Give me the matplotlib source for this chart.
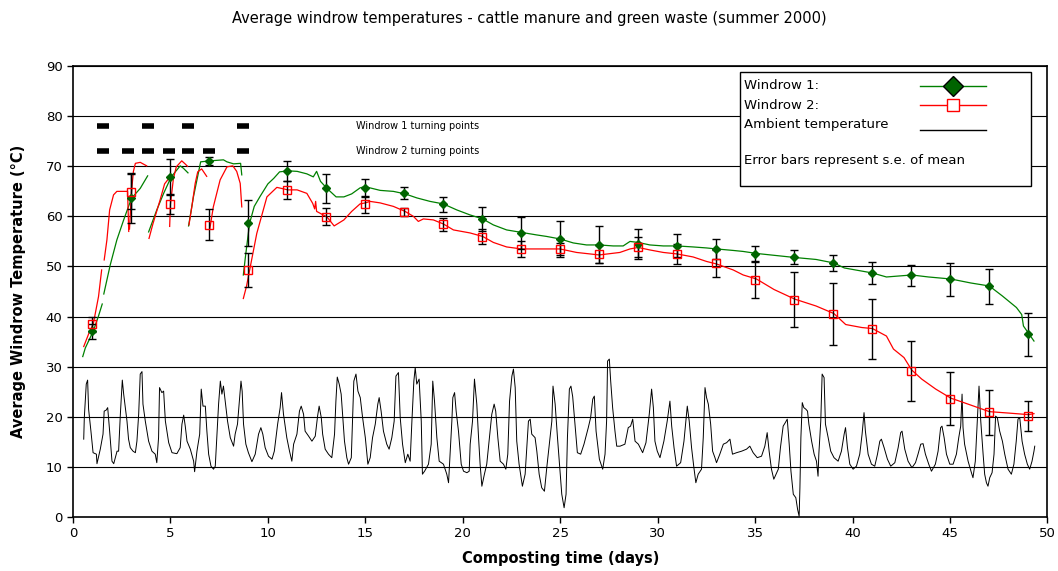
import numpy as np
import matplotlib
matplotlib.use("Agg")
import matplotlib.pyplot as plt
from matplotlib.lines import Line2D
from matplotlib.patches import Rectangle

# Windrow 1 (green) - NaN separates the segments between turning events
w1_day = [0.5, 0.63, 1.04, 1.3, 1.5, np.nan,
          1.58, 1.91, 2.25, 2.6, 3.0, 3.45, 3.83, np.nan,
          3.88, 4.3, 4.65, 5.04, 5.5, 5.67, 5.9, np.nan,
          5.93, 6.18, 6.36, 6.55, 7.04, 7.72, 7.9, 8.24, 8.6, 8.66, np.nan,
          8.74, 8.85, 9.06, 9.3, 9.6, 10.0, 10.3, 10.6, 11.03, 11.5, 12.0, 12.33, 12.5, 12.7,
          13.03, 13.5, 13.9, 14.3, 14.73, 14.99, 15.24, 15.76, 16.44, 17.04, 17.64, 18.32,
          19.0, 19.69, 20.37, 21.02, 21.57, 22.25, 23.02, 23.79, 24.3, 24.99, 25.67, 26.35,
          27.0, 27.72, 28.23, 28.58, 29.0, 29.6, 30.29, 31.0, 31.82, 32.51, 33.02, 33.88,
          34.39, 35.07, 37.02, 38.13, 39.04, 39.58, 41.02, 41.74, 43.04, 43.9, 45.04, 46.07,
          47.02, 47.69, 48.41, 48.68, 48.77, 49.04, 49.31]
w1_temp = [32.0, 33.7, 37.1, 40.0, 42.5, np.nan,
           44.5, 50.3, 55.3, 59.3, 63.6, 65.6, 68.1, np.nan,
           56.9, 61.3, 64.6, 67.9, 70.1, 69.6, 68.7, np.nan,
           58.1, 63.9, 67.3, 70.9, 71.1, 71.3, 70.9, 70.5, 70.6, 68.3, np.nan,
           48.3, 52.0, 58.6, 62.0, 64.0, 66.5, 67.6, 68.9, 69.1, 69.0, 68.5, 67.9, 69.0, 67.0,
           65.6, 63.9, 63.9, 64.5, 65.7, 66.0, 65.7, 65.2, 65.0, 64.5, 63.7, 63.0,
           62.5, 61.3, 60.3, 59.5, 58.3, 57.3, 56.8, 56.3, 56.0, 55.5, 54.7, 54.3,
           54.3, 54.1, 54.1, 55.0, 54.8, 54.3, 54.1, 54.1, 53.9, 53.7, 53.5, 53.2,
           53.0, 52.6, 51.8, 51.4, 50.7, 49.7, 48.7, 47.9, 48.3, 47.9, 47.5, 46.7,
           46.1, 44.1, 41.8, 40.4, 38.1, 36.6, 35.1]

# Windrow 2 (red)
w2_day = [0.55, 0.8, 1.04, 1.31, 1.47, np.nan,
          1.6, 1.74, 1.88, 2.08, 2.25, 2.8, 2.86, np.nan,
          2.9, 3.0, 3.1, 3.2, 3.45, 3.78, np.nan,
          3.9, 4.1, 4.47, 4.7, 4.9, np.nan,
          4.96, 5.0, 5.15, 5.3, 5.58, 5.75, 5.88, np.nan,
          5.95, 6.1, 6.27, 6.4, 6.6, 6.86, np.nan,
          7.02, 7.2, 7.55, 7.9, 8.2, 8.4, 8.58, 8.66, np.nan,
          8.74, 8.9, 9.06, 9.43, 9.95, 10.46, 11.03, 11.5, 12.0, 12.3, 12.4, 12.45, 12.5,
          13.03, 13.4, 13.9, 14.3, 14.73, 15.0, 15.24, 15.76, 16.44, 17.04, 17.47, 17.72,
          17.98, 18.49, 19.0, 19.52, 20.37, 21.02, 21.57, 22.25, 23.02, 23.79, 24.99, 25.84,
          27.0, 28.06, 28.58, 29.0, 29.6, 30.29, 31.0, 31.82, 32.51, 33.02, 33.88, 34.39,
          35.07, 35.97, 37.02, 38.13, 39.04, 39.65, 40.48, 41.02, 41.74, 42.1, 42.64, 43.04,
          43.55, 44.27, 45.04, 45.71, 47.02, 48.05, 49.04, 49.31]
w2_temp = [34.0, 36.5, 38.5, 44.0, 49.3, np.nan,
           51.3, 55.3, 61.3, 64.3, 65.0, 65.0, 57.0, np.nan,
           57.5, 64.9, 69.0, 70.6, 70.8, 70.1, np.nan,
           55.6, 58.5, 63.3, 66.5, 67.5, np.nan,
           58.0, 62.4, 67.5, 69.9, 71.1, 70.5, 70.0, np.nan,
           58.3, 62.0, 66.6, 68.9, 69.5, 68.0, np.nan,
           57.5, 61.9, 67.3, 69.9, 70.1, 69.0, 66.6, 61.9, np.nan,
           43.6, 46.0, 49.2, 56.6, 63.9, 65.8, 65.3, 65.3, 64.6, 62.6, 61.5, 63.0, 61.0,
           59.9, 58.1, 59.3, 61.0, 62.5, 62.7, 63.0, 62.7, 62.0, 61.0, 60.0, 59.0,
           59.5, 59.3, 58.5, 57.3, 56.7, 56.0, 54.8, 53.9, 53.5, 53.5, 53.5, 52.8,
           52.3, 52.8, 53.5, 53.8, 53.3, 52.8, 52.5, 51.9, 51.0, 50.5, 49.3, 48.3,
           47.5, 45.4, 43.5, 42.1, 40.6, 38.4, 37.8, 37.6, 36.1, 33.5, 31.8, 29.3,
           27.5, 25.5, 23.7, 22.8, 21.0, 20.7, 20.4, 20.6]

# Sampling days (means with standard error)
mean_day = [1, 3, 5, 7, 9, 11, 13, 15, 17, 19, 21, 23, 25, 27, 29, 31, 33, 35, 37, 39, 41, 43, 45, 47, 49]
w1_mean = [37.1, 63.6, 67.9, 71.1, 58.6, 69.1, 65.6, 65.7, 64.6, 62.4, 59.4, 56.7, 55.5,
           54.3, 54.4, 54.1, 53.5, 52.5, 51.8, 50.6, 48.6, 48.2, 47.4, 46.0, 36.5]
w1_se = [1.5, 5.0, 3.6, 0.8, 4.6, 2.0, 2.9, 1.8, 1.2, 1.5, 2.4, 3.2, 3.6,
         3.7, 3.0, 2.3, 2.0, 1.5, 1.4, 1.6, 2.2, 2.1, 3.3, 3.5, 4.3]
w2_mean = [38.5, 64.9, 62.4, 58.3, 49.2, 65.3, 59.9, 62.4, 60.9, 58.4, 55.9, 53.5, 53.5,
           52.4, 53.9, 52.4, 50.6, 47.3, 43.4, 40.5, 37.5, 29.2, 23.6, 20.9, 20.2]
w2_se = [1.5, 3.5, 2.0, 3.1, 3.4, 1.8, 1.7, 1.7, 0.8, 1.3, 1.5, 1.6, 1.2,
         1.8, 2.0, 2.0, 2.7, 3.5, 5.4, 6.2, 6.0, 6.0, 5.3, 4.5, 3.0]

# Turning points
turn1_day = [1.56, 3.87, 5.92, 8.72]
turn2_day = [1.56, 2.84, 3.87, 4.95, 5.92, 6.99, 8.72]
turn1_level = 78
turn2_level = 73

# Ambient temperature
amb_day = [0.55, 0.58, 0.68, 0.75, 0.8, 0.92, 1.03, 1.2, 1.23, 1.4, 1.54, 1.6, 1.7, 1.78, 1.88,
           2.0, 2.09, 2.26, 2.34, 2.43, 2.53, 2.6, 2.77, 2.85, 2.94, 3.08, 3.2, 3.28, 3.37, 3.45,
           3.54, 3.59, 3.71, 3.88, 4.05, 4.22, 4.3, 4.39, 4.44, 4.56, 4.65, 4.74, 4.91, 5.08,
           5.33, 5.5, 5.59, 5.68, 5.76, 5.85, 6.02, 6.19, 6.24, 6.36, 6.5, 6.58, 6.67, 6.79,
           6.87, 6.96, 7.08, 7.21, 7.3, 7.38, 7.47, 7.56, 7.64, 7.72, 7.81, 7.93, 8.07, 8.24,
           8.32, 8.44, 8.55, 8.62, 8.68, 8.75, 8.87, 9.0, 9.18, 9.35, 9.52, 9.64, 9.74, 9.86,
           10.03, 10.21, 10.33, 10.5, 10.63, 10.7, 10.8, 10.97, 11.11, 11.23, 11.32, 11.49,
           11.62, 11.71, 11.83, 11.91, 12.09, 12.26, 12.43, 12.55, 12.63, 12.74, 12.81, 12.94,
           13.11, 13.28, 13.42, 13.49, 13.56, 13.66, 13.76, 13.83, 13.93, 14.05, 14.14, 14.28,
           14.34, 14.41, 14.52, 14.62, 14.74, 14.86, 15.0, 15.13, 15.25, 15.37, 15.51, 15.64,
           15.71, 15.81, 15.93, 16.1, 16.22, 16.36, 16.48, 16.57, 16.7, 16.79, 16.91, 17.05,
           17.18, 17.3, 17.39, 17.49, 17.56, 17.64, 17.76, 17.87, 17.93, 18.04, 18.24, 18.38,
           18.46, 18.55, 18.67, 18.79, 19.01, 19.18, 19.27, 19.35, 19.44, 19.49, 19.58, 19.66,
           19.78, 19.92, 20.04, 20.21, 20.33, 20.38, 20.5, 20.6, 20.72, 20.81, 20.89, 20.98,
           21.11, 21.23, 21.35, 21.49, 21.61, 21.69, 21.8, 21.92, 22.09, 22.21, 22.31, 22.4,
           22.52, 22.6, 22.69, 22.77, 22.89, 23.06, 23.2, 23.37, 23.46, 23.54, 23.71, 23.8,
           23.92, 24.05, 24.19, 24.31, 24.48, 24.57, 24.63, 24.74, 24.86, 25.0, 25.08, 25.2,
           25.3, 25.37, 25.47, 25.55, 25.64, 25.76, 25.88, 26.05, 26.22, 26.44, 26.56, 26.67,
           26.75, 26.84, 27.01, 27.18, 27.3, 27.38, 27.43, 27.52, 27.59, 27.69, 27.81, 27.9,
           28.07, 28.32, 28.49, 28.61, 28.72, 28.84, 29.01, 29.23, 29.4, 29.57, 29.69, 29.78,
           29.86, 29.98, 30.12, 30.32, 30.49, 30.63, 30.72, 30.84, 30.97, 31.18, 31.35, 31.45,
           31.52, 31.62, 31.74, 31.86, 31.96, 32.08, 32.25, 32.34, 32.43, 32.51, 32.6, 32.72,
           32.82, 32.94, 33.02, 33.19, 33.37, 33.54, 33.71, 33.84, 34.05, 34.31, 34.56, 34.73,
           34.9, 35.11, 35.33, 35.5, 35.62, 35.72, 35.84, 35.96, 36.19, 36.3, 36.44, 36.55,
           36.65, 36.75, 36.84, 36.96, 37.09, 37.18, 37.26, 37.3, 37.35, 37.42, 37.5, 37.6,
           37.69, 37.76, 37.9, 38.03, 38.15, 38.23, 38.27, 38.37, 38.44, 38.54, 38.61, 38.75,
           38.88, 39.05, 39.26, 39.43, 39.57, 39.64, 39.74, 39.86, 40.03, 40.2, 40.37, 40.49,
           40.59, 40.66, 40.8, 40.97, 41.14, 41.28, 41.4, 41.48, 41.62, 41.79, 41.96, 42.17,
           42.34, 42.47, 42.54, 42.68, 42.85, 43.05, 43.23, 43.36, 43.5, 43.62, 43.74, 43.91,
           44.05, 44.25, 44.39, 44.52, 44.59, 44.7, 44.82, 44.99, 45.16, 45.33, 45.45, 45.55,
           45.62, 45.67, 45.75, 45.93, 46.1, 46.18, 46.3, 46.4, 46.49, 46.58, 46.7, 46.78,
           46.87, 46.95, 47.04, 47.16, 47.26, 47.34, 47.43, 47.55, 47.69, 47.81, 47.98, 48.15,
           48.28, 48.4, 48.49, 48.58, 48.7, 48.83, 48.97, 49.09, 49.21, 49.31, 49.35]
amb_temp = [15.5, 19.8, 26.5, 27.3, 21.5, 17.1, 12.8, 12.5, 10.6, 13.5, 16.5, 21.1, 21.3, 21.8, 17.1,
            11.1, 10.6, 13.1, 13.1, 20.5, 27.3, 24.5, 19.1, 15.5, 13.8, 13.1, 12.8, 15.1, 20.5, 28.5,
            29.0, 22.5, 19.1, 15.1, 13.1, 12.5, 10.8, 15.8, 25.8, 24.8, 25.1, 19.1, 14.8, 12.8,
            12.6, 13.8, 18.5, 20.3, 18.1, 15.1, 13.5, 11.1, 9.0, 13.1, 16.5, 25.5, 22.1, 22.1,
            17.1, 12.5, 10.1, 9.5, 10.1, 15.8, 22.5, 27.1, 24.5, 26.1, 23.1, 19.1, 15.8, 14.1,
            16.5, 18.5, 23.8, 27.1, 25.1, 18.5, 14.5, 12.8, 11.0, 12.5, 16.5, 17.8, 16.5, 13.8,
            12.1, 11.5, 13.1, 18.5, 21.8, 24.8, 20.5, 15.8, 13.1, 11.1, 14.5, 16.5,
            21.1, 22.1, 20.5, 17.1, 16.1, 15.1, 16.1, 20.1, 22.1, 19.8, 16.5, 13.5,
            12.5, 11.8, 16.5, 23.1, 27.9, 26.5, 24.5, 20.5, 15.1, 11.8, 10.5, 11.8,
            19.1, 27.1, 28.5, 25.1, 23.8, 19.8, 15.8, 10.5, 11.8, 15.8, 18.5, 22.5,
            23.8, 21.1, 17.1, 14.5, 13.5, 15.8, 19.1, 28.1, 28.8, 19.8, 14.5, 10.8,
            12.5, 11.1, 19.1, 27.1, 29.8, 26.5, 27.5, 19.1, 8.5, 9.1, 10.5, 14.5,
            27.1, 23.1, 15.8, 11.1, 10.5, 8.5, 6.8, 12.5, 19.1, 23.8, 24.8, 21.1,
            17.1, 10.5, 9.1, 8.8, 9.1, 14.5, 19.1, 27.5, 22.5, 15.8, 10.5, 6.1,
            8.5, 10.5, 15.1, 20.5, 22.5, 21.1, 15.8, 11.1, 10.5, 9.5, 12.5, 23.1,
            28.1, 29.5, 25.8, 15.1, 10.5, 6.1, 8.5, 19.1, 19.5, 16.5, 15.8, 13.1,
            8.5, 5.8, 5.1, 9.8, 15.8, 19.1, 26.1, 22.5, 15.8, 8.5, 4.5, 1.8,
            4.5, 15.8, 25.5, 26.1, 24.0, 18.5, 12.8, 12.5, 14.5, 17.8, 19.8, 23.5,
            24.1, 17.1, 11.5, 9.5, 12.5, 19.1, 31.1, 31.5, 27.1, 21.8, 17.1, 14.1,
            14.1, 14.5, 17.8, 18.1, 19.5, 15.1, 14.5, 12.8, 14.8, 20.5, 25.5, 21.8,
            15.1, 13.1, 11.8, 15.1, 19.1, 23.1, 18.1, 13.8, 10.1, 10.8, 15.1, 19.1,
            22.1, 19.1, 13.8, 9.8, 6.8, 8.5, 9.5, 15.8, 25.8, 23.8, 22.5, 18.5,
            13.1, 11.8, 10.8, 12.5, 14.5, 14.8, 15.5, 12.5, 12.8, 13.1, 13.5, 14.1,
            12.8, 11.8, 12.1, 14.1, 16.8, 13.1, 9.5, 7.5, 9.5, 13.8, 18.1, 18.8,
            19.5, 14.5, 9.1, 4.5, 3.8, 1.5, 0.1, 5.8, 15.8, 22.8, 21.8, 21.5,
            21.1, 18.5, 15.1, 12.5, 11.1, 8.1, 12.5, 19.1, 28.5, 27.8, 18.5, 15.8,
            13.1, 11.8, 11.1, 13.1, 16.5, 17.8, 13.8, 10.5, 9.5, 10.1, 12.5, 16.5,
            20.8, 17.1, 12.5, 10.5, 10.1, 12.5, 15.1, 15.5, 13.8, 11.5, 10.1, 10.8,
            13.8, 16.8, 17.1, 13.5, 11.1, 9.8, 10.8, 12.5, 14.5, 14.6, 12.5, 10.5,
            9.1, 10.5, 13.1, 17.8, 18.1, 15.8, 12.5, 10.5, 10.5, 12.5, 15.8, 18.1,
            24.5, 17.8, 14.5, 11.1, 8.8, 7.8, 11.1, 19.1, 26.1, 19.1, 12.5, 8.5,
            6.8, 6.1, 7.8, 8.8, 12.5, 20.1, 19.8, 17.1, 15.1, 12.5, 9.5, 8.5,
            10.5, 15.1, 19.5, 19.8, 15.1, 12.5, 10.5, 9.5, 11.1, 13.1, 14.1]

x_ticks = [0, 5, 10, 15, 20, 25, 30, 35, 40, 45, 50]
y_ticks = [0, 10, 20, 30, 40, 50, 60, 70, 80, 90]

GREEN = "#008000"
DARK_GREEN = "#006400"
RED = "#ff0000"

fig = plt.figure(figsize=(10.58, 5.71), dpi=100)
ax = fig.add_axes([0.069, 0.095, 0.921, 0.789])

# horizontal grid
for yv in y_ticks[1:]:
    ax.axhline(yv, color="black", linewidth=0.8, zorder=0)

ax.plot(amb_day, amb_temp, color="black", linewidth=0.7, zorder=2)
ax.plot(w1_day, w1_temp, color=GREEN, linewidth=0.9, zorder=3)
ax.plot(w2_day, w2_temp, color=RED, linewidth=0.9, zorder=3)

ax.errorbar(mean_day, w1_mean, yerr=w1_se, fmt="none", ecolor="black",
            elinewidth=1, capsize=3, capthick=1, zorder=4)
ax.errorbar(mean_day, w2_mean, yerr=w2_se, fmt="none", ecolor="black",
            elinewidth=1, capsize=3, capthick=1, zorder=4)
ax.plot(mean_day, w1_mean, linestyle="none", marker="D", markersize=4,
        color=DARK_GREEN, zorder=5)
ax.plot(mean_day, w2_mean, linestyle="none", marker="s", markersize=6,
        markerfacecolor="none", markeredgecolor=RED, markeredgewidth=1, zorder=5)

# turning points
ax.plot(turn1_day, [turn1_level] * len(turn1_day), linestyle="none", marker="_",
        markersize=9, markeredgewidth=4, color="black")
ax.plot(turn2_day, [turn2_level] * len(turn2_day), linestyle="none", marker="_",
        markersize=9, markeredgewidth=4, color="black")
ax.text(14.5, turn1_level, "Windrow 1 turning points", fontsize=7, va="center", ha="left")
ax.text(14.5, turn2_level, "Windrow 2 turning points", fontsize=7, va="center", ha="left")

ax.set_xlim(0, 50)
ax.set_ylim(0, 90)
ax.set_xticks(x_ticks)
ax.set_yticks(y_ticks)
ax.tick_params(direction="out", length=4, width=1, labelsize=9.5)
for sp in ax.spines.values():
    sp.set_linewidth(1.2)

ax.set_xlabel("Composting time (days)", fontsize=10.5, fontweight="bold", labelpad=8)
ax.set_ylabel("Average Windrow Temperature (°C)", fontsize=10.5, fontweight="bold", labelpad=14)
fig.suptitle("Average windrow temperatures - cattle manure and green waste (summer 2000)",
             fontsize=10.5, y=0.98)

# legend box drawn by hand (labels left, symbols right)
tr = ax.transAxes
ax.add_patch(Rectangle((0.685, 0.735), 0.298, 0.252, transform=tr, facecolor="white",
                       edgecolor="black", linewidth=1, zorder=6))
rows = [0.957, 0.913, 0.871, 0.79]
labels = ["Windrow 1:", "Windrow 2:", "Ambient temperature", "Error bars represent s.e. of mean"]
for yy, lab in zip(rows, labels):
    ax.text(0.689, yy, lab, transform=tr, fontsize=9.5, va="center", ha="left", zorder=7)
hx = [0.869, 0.937]
ax.add_line(Line2D(hx, [rows[0]] * 2, transform=tr, color=GREEN, linewidth=1, zorder=7))
ax.add_line(Line2D([0.9035], [rows[0]], transform=tr, marker="D", markersize=10,
                   markerfacecolor=DARK_GREEN, markeredgecolor="black", zorder=8))
ax.add_line(Line2D(hx, [rows[1]] * 2, transform=tr, color=RED, linewidth=1, zorder=7))
ax.add_line(Line2D([0.9035], [rows[1]], transform=tr, marker="s", markersize=8,
                   markerfacecolor="white", markeredgecolor=RED, zorder=8))
ax.add_line(Line2D(hx, [rows[2] - 0.012] * 2, transform=tr, color="black", linewidth=1, zorder=7))

fig.savefig("out.png", dpi=100)
